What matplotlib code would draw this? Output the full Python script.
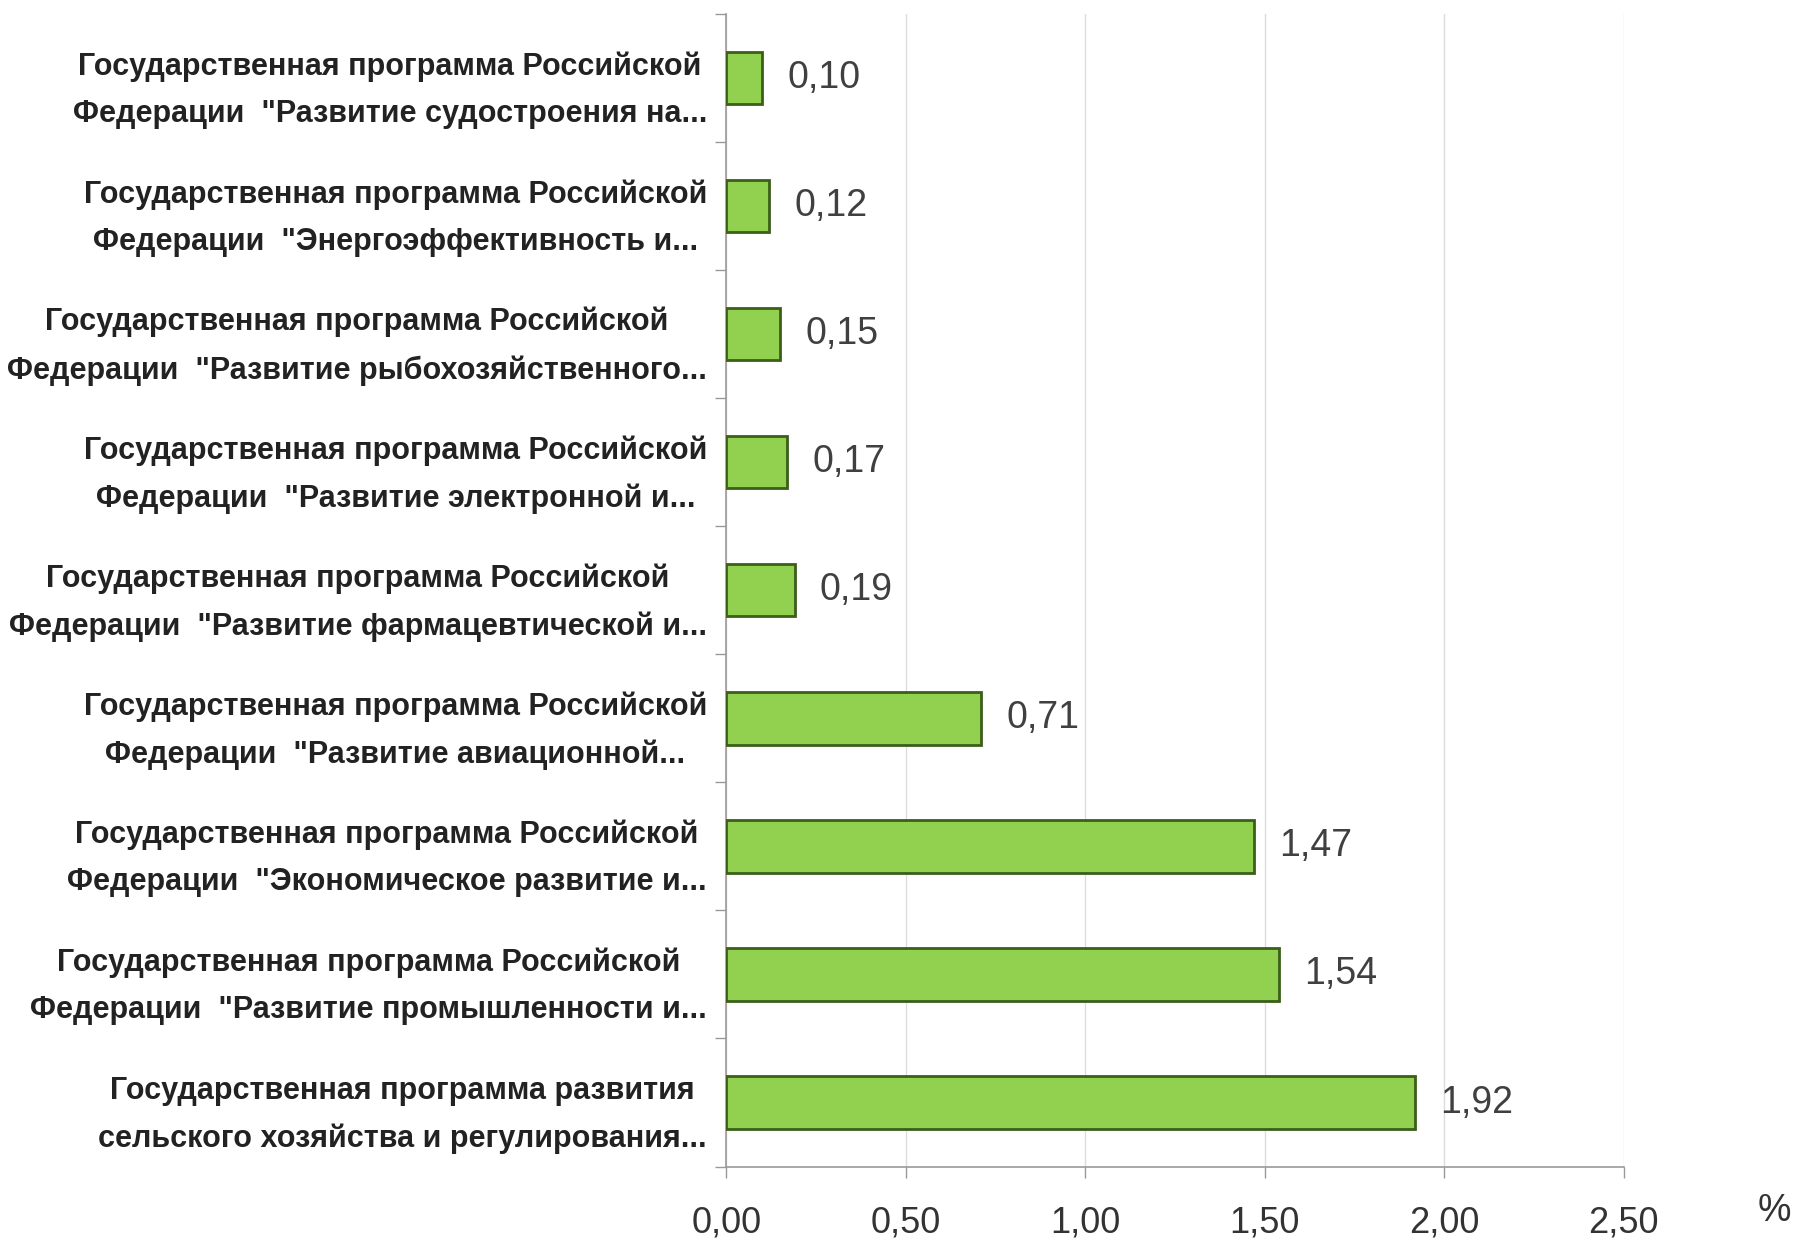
import numpy as np
import matplotlib.pyplot as plt
from matplotlib import font_manager

# data (bottom to top)
labels = [
    "Государственная программа развития\nсельского хозяйства и регулирования...",
    "Государственная программа Российской\nФедерации  \"Развитие промышленности и...",
    "Государственная программа Российской\nФедерации  \"Экономическое развитие и...",
    "Государственная программа Российской\nФедерации  \"Развитие авиационной...",
    "Государственная программа Российской\nФедерации  \"Развитие фармацевтической и...",
    "Государственная программа Российской\nФедерации  \"Развитие электронной и...",
    "Государственная программа Российской\nФедерации  \"Развитие рыбохозяйственного...",
    "Государственная программа Российской\nФедерации  \"Энергоэффективность и...",
    "Государственная программа Российской\nФедерации  \"Развитие судостроения на...",
]
values = [1.92, 1.54, 1.47, 0.71, 0.19, 0.17, 0.15, 0.12, 0.10]
xticks = [0.0, 0.5, 1.0, 1.5, 2.0, 2.5]

names = {f.name for f in font_manager.fontManager.ttflist}
family = ["Liberation Sans Narrow", "DejaVu Sans"] if "Liberation Sans Narrow" in names else ["Liberation Sans", "DejaVu Sans"]
plt.rcParams['font.family'] = family

fig = plt.figure(figsize=(17.98, 12.49), dpi=100)
ax = fig.add_axes([0.404, 0.066, 0.499, 0.923])

y = np.arange(len(values))
ax.barh(y, values, height=0.41, color="#92D050", edgecolor="#3B5E1A", linewidth=2, zorder=3)

for yi, v in zip(y, values):
    ax.annotate(f"{v:.2f}".replace(".", ","), (v, yi), xytext=(18, 0),
                textcoords="offset points", va="center", ha="left",
                fontsize=27, color="#404040")

ax.set_xlim(0, 2.5)
ax.set_ylim(-0.5, len(values) - 0.5)
ax.set_xticks(xticks)
ax.set_xticklabels([f"{t:.2f}".replace(".", ",") for t in xticks], fontsize=26, color="#333333")
ax.set_yticks(y)
ax.set_yticklabels(labels, fontsize=22, fontweight="bold", color="#222222",
                   multialignment="center", linespacing=1.75)
ax.tick_params(axis="y", length=0, pad=14)
ax.tick_params(axis="x", length=8, width=1, color="#999999", pad=20)
ax.set_yticks(np.arange(-0.5, len(values), 1.0), minor=True)
ax.tick_params(axis="y", which="minor", length=8, width=1, color="#999999")

ax.grid(axis="x", color="#dcdcdc", linewidth=1, zorder=0)
for side in ["top", "right"]:
    ax.spines[side].set_visible(False)
ax.spines["left"].set_color("#999999")
ax.spines["bottom"].set_color("#999999")
ax.spines["left"].set_linewidth(1.2)
ax.spines["bottom"].set_linewidth(1.2)

fig.text(0.996, 0.016, "%", fontsize=27, color="#333333", ha="right", va="bottom")

fig.savefig("out.png", dpi=100, facecolor="white")
